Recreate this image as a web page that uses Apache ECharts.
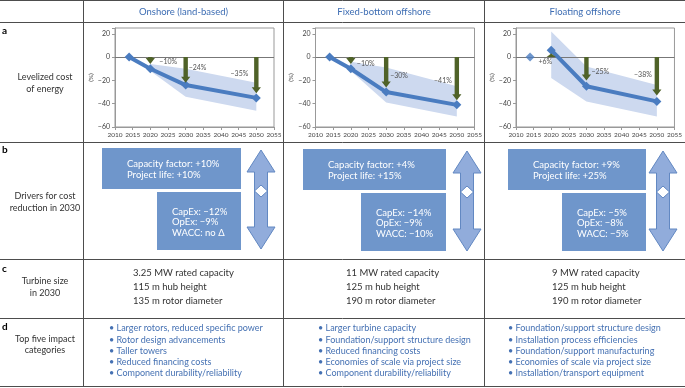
<!DOCTYPE html>
<html>
<head>
<meta charset="utf-8">
<script src="https://cdn.jsdelivr.net/npm/echarts@6/dist/echarts.min.js"></script>
<style>
html,body{margin:0;padding:0;background:#fff;}
#main{width:685px;height:388px;}
</style>
</head>
<body>
<div id="main"></div>
<script>
// ---- panel a: levelized cost of energy (% change vs 2014) ----
var lcoeYears = [2014, 2020, 2030, 2050];
var onshoreLcoe = [0, -10, -24, -35];
var fixedLcoe = [0, -10, -30, -41];
var floatingLcoe = [0, 6, -25, -38];

// shaded range (high / low estimates)
var bandYears = [2020, 2030, 2050];
var onshoreHigh = [-6, -10, -22];
var onshoreLow = [-12, -34, -46];
var fixedHigh = [-4, -9, -25];
var fixedLow = [-12, -39, -51];
var floatingHigh = [22, -8, -24];
var floatingLow = [-18, -38, -51];

// green arrows from 0 toward the value
var arrowYears = [2020, 2030, 2050];
var onshoreArrowEnd = [-6, -22, -31];
var fixedArrowEnd = [-6, -26, -37];
var floatingArrowEnd = [3, -20, -33];
var onshoreArrowText = ['\u221210%', '\u221224%', '\u221235%'];
var fixedArrowText = ['\u221210%', '\u221230%', '\u221241%'];
var floatingArrowText = ['+6%', '\u221225%', '\u221238%'];

var xMin = 2010, xMax = 2055, xStep = 5;
var yMin = -60, yMax = 25, yStep = 20;

// ---- table text ----
var columnTitles = ['Onshore (land-based)', 'Fixed-bottom offshore', 'Floating offshore'];
var rowLetters = ['a', 'b', 'c', 'd'];
var rowTitles = [['Levelized cost', 'of energy'], ['Drivers for cost', 'reduction in 2030'], ['Turbine size', 'in 2030'], ['Top five impact', 'categories']];
var driversUp = [
    ['Capacity factor: +10%', 'Project life: +10%'],
    ['Capacity factor: +4%', 'Project life: +15%'],
    ['Capacity factor: +9%', 'Project life: +25%']
];
var driversDown = [
    ['CapEx: \u221212%', 'OpEx: \u22129%', 'WACC: no \u0394'],
    ['CapEx: \u221214%', 'OpEx: \u22129%', 'WACC: \u221210%'],
    ['CapEx: \u22125%', 'OpEx: \u22128%', 'WACC: \u22125%']
];
var turbineSize = [
    ['3.25 MW rated capacity', '115 m hub height', '135 m rotor diameter'],
    ['11 MW rated capacity', '125 m hub height', '190 m rotor diameter'],
    ['9 MW rated capacity', '125 m hub height', '190 m rotor diameter']
];
var impactCategories = [
    ['Larger rotors, reduced specific power', 'Rotor design advancements', 'Taller towers', 'Reduced financing costs', 'Component durability/reliability'],
    ['Larger turbine capacity', 'Foundation/support structure design', 'Reduced financing costs', 'Economies of scale via project size', 'Component durability/reliability'],
    ['Foundation/support structure design', 'Installation process efficiencies', 'Foundation/support manufacturing', 'Economies of scale via project size', 'Installation/transport equipment']
];

var FONT = 'Lato, "Open Sans", sans-serif';
var BLUE_LINE = '#4a7cc0';
var BAND = '#cdd9ef';
var GREEN = '#4f6228';
var BOX = '#6f96cb';
var RULE = '#4d4d4d';

// layout per column
var panels = [
    {
        lcoe: onshoreLcoe, high: onshoreHigh, low: onshoreLow, arrowEnd: onshoreArrowEnd, arrowText: onshoreArrowText,
        linkBase: true, grid: { left: 115, top: 28, width: 159, height: 99 },
        labelPos: [[9, 5, 'left'], [3, 11, 'left'], [-8, 17, 'right']],
        box1: [102, 148, 139, 41], box2: [157, 192, 84, 58], dbl: [261, 150, 249, 191],
        textX: 133, bulletX: 109
    },
    {
        lcoe: fixedLcoe, high: fixedHigh, low: fixedLow, arrowEnd: fixedArrowEnd, arrowText: fixedArrowText,
        linkBase: true, grid: { left: 315.5, top: 28, width: 159, height: 99 },
        labelPos: [[6, 7, 'left'], [4, 19, 'left'], [-5, 24, 'right']],
        box1: [303, 149, 143, 41], box2: [361, 193, 85, 58], dbl: [467, 151, 251, 192],
        textX: 346, bulletX: 318
    },
    {
        lcoe: floatingLcoe, high: floatingHigh, low: floatingLow, arrowEnd: floatingArrowEnd, arrowText: floatingArrowText,
        linkBase: false, grid: { left: 516, top: 28, width: 160, height: 99 },
        labelPos: [[1, 5, 'right'], [5, 15, 'left'], [-5, 18, 'right']],
        box1: [508, 149, 138, 41], box2: [562, 193, 84, 58], dbl: [663, 151, 251, 192],
        textX: 552, bulletX: 508
    }
];

function minus(v) {
    return String(v).replace('-', '\u2212');
}

function bandRenderer(p) {
    return function (params, api) {
        var top = [], bottom = [];
        for (var i = 0; i < bandYears.length; i++) {
            top.push(api.coord([bandYears[i], p.high[i]]));
            bottom.unshift(api.coord([bandYears[i], p.low[i]]));
        }
        return { type: 'polygon', shape: { points: top.concat(bottom) }, style: { fill: BAND } };
    };
}

function arrowRenderer(p) {
    return function (params, api) {
        var i = params.dataIndex;
        var p0 = api.coord([api.value(0), 0]);
        var p1 = api.coord([api.value(0), api.value(1)]);
        var dir = p1[1] > p0[1] ? 1 : -1;
        var len = Math.abs(p1[1] - p0[1]);
        var head = Math.min(6, len);
        var sw = 2.2, hw = 4.6, cx = p0[0];
        var yh = p1[1] - dir * head;
        var pts = [[cx - sw, p0[1]], [cx + sw, p0[1]], [cx + sw, yh], [cx + hw, yh], [cx, p1[1]], [cx - hw, yh], [cx - sw, yh]];
        var lp = p.labelPos[i];
        return {
            type: 'group',
            children: [
                { type: 'polygon', shape: { points: pts }, style: { fill: GREEN } },
                {
                    type: 'text', x: cx + lp[0], y: p0[1] + lp[1],
                    style: { text: p.arrowText[i], fill: '#555', font: '7px ' + FONT, textAlign: lp[2], textVerticalAlign: 'middle' }
                }
            ]
        };
    };
}

var grids = [], xAxes = [], yAxes = [], series = [];

panels.forEach(function (p, k) {
    grids.push({ left: p.grid.left, top: p.grid.top, width: p.grid.width, height: p.grid.height, show: true, borderColor: '#999', borderWidth: 1, backgroundColor: 'transparent' });
    xAxes.push({
        type: 'value', gridIndex: k, min: xMin, max: xMax, interval: xStep,
        axisLine: { show: true, onZero: false, lineStyle: { color: '#999' } },
        axisTick: { show: true, length: 3, lineStyle: { color: '#999' } },
        axisLabel: {
            fontSize: 6.5, fontFamily: FONT, color: '#444', margin: 4, hideOverlap: false, showMinLabel: true, showMaxLabel: true,
            formatter: function (v) { return String(v); }
        },
        splitLine: { show: false }
    });
    yAxes.push({
        type: 'value', gridIndex: k, min: yMin, max: yMax, interval: yStep,
        name: '(%)', nameLocation: 'middle', nameGap: 19, nameRotate: 90,
        nameTextStyle: { fontSize: 6.5, fontFamily: FONT, color: '#444' },
        axisLine: { show: true, lineStyle: { color: '#999' } },
        axisTick: { show: true, length: 3, lineStyle: { color: '#999' } },
        axisLabel: {
            fontSize: 7, fontFamily: FONT, color: '#444', margin: 5,
            formatter: function (v) { return v % 20 === 0 ? minus(v) : ''; }
        },
        splitLine: { show: false }
    });

    // range band
    series.push({
        type: 'custom', xAxisIndex: k, yAxisIndex: k, silent: true, z: 1,
        renderItem: bandRenderer(p), data: [[2030, 0]]
    });

    var pts = lcoeYears.map(function (y, i) { return [y, p.lcoe[i]]; });
    var linePts = p.linkBase ? pts : pts.slice(1);
    series.push({
        type: 'line', xAxisIndex: k, yAxisIndex: k, z: 3, silent: true,
        data: linePts, symbol: 'diamond', symbolSize: 9, showAllSymbol: true,
        itemStyle: { color: BLUE_LINE }, lineStyle: { color: BLUE_LINE, width: 4 },
        markLine: {
            silent: true, symbol: ['none', 'none'], label: { show: false },
            lineStyle: { color: '#777', width: 1, type: 'solid' }, data: [{ yAxis: 0 }], z: 2
        }
    });
    if (!p.linkBase) {
        series.push({
            type: 'scatter', xAxisIndex: k, yAxisIndex: k, z: 3, silent: true,
            data: pts.slice(0, 1), symbol: 'diamond', symbolSize: 9, itemStyle: { color: BLUE_LINE }
        });
    }

    // green arrows + percentage labels
    series.push({
        type: 'custom', xAxisIndex: k, yAxisIndex: k, silent: true, z: 4,
        renderItem: arrowRenderer(p),
        data: arrowYears.map(function (y, i) { return [y, p.arrowEnd[i]]; })
    });
});

// ---- table graphics ----
var g = [];
function hline(y) { g.push({ type: 'line', shape: { x1: 0, y1: y, x2: 685, y2: y }, style: { stroke: RULE, lineWidth: 1 }, silent: true }); }
function vline(x) { g.push({ type: 'line', shape: { x1: x, y1: 0, x2: x, y2: 387 }, style: { stroke: RULE, lineWidth: 1 }, silent: true }); }
function txt(x, y, s, opt) {
    opt = opt || {};
    g.push({
        type: 'text', x: x, y: y, silent: true,
        style: {
            text: s, fill: opt.color || '#333', font: (opt.weight || 'normal') + ' ' + (opt.size || 10) + 'px ' + FONT,
            textAlign: opt.align || 'left', textVerticalAlign: 'middle'
        }
    });
}

[0.5, 22.5, 142.5, 259.5, 318.5, 386.5].forEach(hline);
[83.5, 283.5, 484.5].forEach(vline);

var colCenters = [183.5, 384, 585];
columnTitles.forEach(function (t, i) { txt(colCenters[i], 11.5, t, { color: '#3d6db3', align: 'center', size: 9.5 }); });

var letterY = [31, 150, 269, 327];
var titleY = [[77, 89.5], [196.5, 208], [281.5, 293], [339.5, 350.5]];
rowLetters.forEach(function (l, i) {
    txt(2, letterY[i], l, { weight: 'bold', color: '#000' });
    txt(45, titleY[i][0], rowTitles[i][0], { align: 'center', size: 9 });
    txt(45, titleY[i][1], rowTitles[i][1], { align: 'center', size: 9 });
});

function doubleArrow(cx, top, bottom, mid) {
    var sw = 6.5, hw = 14, hh = 22;
    var up = [[cx, top], [cx + hw, top + hh], [cx + sw, top + hh], [cx + sw, mid], [cx, mid - 6], [cx - sw, mid], [cx - sw, top + hh], [cx - hw, top + hh]];
    var down = [[cx - sw, mid], [cx, mid + 6], [cx + sw, mid], [cx + sw, bottom - hh], [cx + hw, bottom - hh], [cx, bottom], [cx - hw, bottom - hh], [cx - sw, bottom - hh]];
    [up, down].forEach(function (pts) {
        g.push({ type: 'polygon', shape: { points: pts }, style: { fill: '#91acdb', stroke: '#6288c2', lineWidth: 1 }, silent: true });
    });
}

panels.forEach(function (p, k) {
    var b1 = p.box1, b2 = p.box2;
    g.push({ type: 'rect', shape: { x: b1[0], y: b1[1], width: b1[2], height: b1[3] }, style: { fill: BOX }, silent: true });
    g.push({ type: 'rect', shape: { x: b2[0], y: b2[1], width: b2[2], height: b2[3] }, style: { fill: BOX }, silent: true });
    driversUp[k].forEach(function (s, i) { txt(b1[0] + 25, b1[1] + 15.5 + i * 11.5, s, { color: '#fff', size: 9.5 }); });
    driversDown[k].forEach(function (s, i) { txt(b2[0] + 15, b2[1] + 19.5 + i * 10.8, s, { color: '#fff', size: 9.5 }); });
    doubleArrow(p.dbl[0], p.dbl[1], p.dbl[2], p.dbl[3]);

    turbineSize[k].forEach(function (s, i) { txt(p.textX, 273 + i * 14, s, { size: 9.5 }); });
    impactCategories[k].forEach(function (s, i) { txt(p.bulletX, 328.5 + i * 11.2, '\u2022 ' + s, { color: '#4571b3', size: 9 }); });
});

var chart = echarts.init(document.getElementById('main'), null, { renderer: 'canvas' });
chart.setOption({
    animation: false,
    backgroundColor: '#fff',
    grid: grids,
    xAxis: xAxes,
    yAxis: yAxes,
    series: series,
    graphic: g
});
</script>
</body>
</html>
